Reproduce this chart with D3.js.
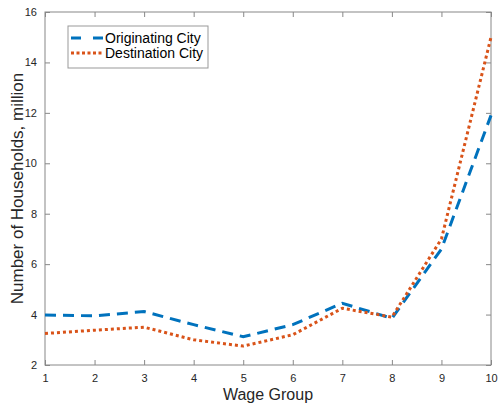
<!DOCTYPE html>
<html>
<head>
<meta charset="utf-8">
<script src="https://cdn.jsdelivr.net/npm/d3@7"></script>
<style>
  body { margin: 0; background: #fff; }
  text { font-family: "Liberation Sans", Arial, sans-serif; }
</style>
</head>
<body>
<div id="chart"></div>
<script>
// Data
var wageGroups = [1, 2, 3, 4, 5, 6, 7, 8, 9, 10];
var originating = [3.98, 3.95, 4.12, 3.6, 3.12, 3.6, 4.45, 3.85, 6.6, 11.9];
var destination = [3.25, 3.38, 3.5, 3.0, 2.75, 3.2, 4.25, 3.9, 7.0, 15.0];
var yTicks = [2, 4, 6, 8, 10, 12, 14, 16];

var series = [
    {name: "Originating City", values: originating, color: "#0072BD", dash: "11,7"},
    {name: "Destination City", values: destination, color: "#D95319", dash: "3,3"}
];

// Basic size information
var svgWidth = 498, svgHeight = 403;
var margin = {top: 12, right: 7, bottom: 38, left: 45};
var width = svgWidth - margin.left - margin.right;
var height = svgHeight - margin.top - margin.bottom;
var axisColor = "#888";

var svg = d3.select("#chart")
    .append("svg")
        .attr("width", svgWidth)
        .attr("height", svgHeight)
    .append("g")
        .attr("transform", "translate(" + margin.left + "," + margin.top + ")");

var x = d3.scaleLinear().domain([1, 10]).range([0, width]);
var y = d3.scaleLinear().domain([2, 16]).range([height, 0]);

// Axes (ticks point inward, like matlab)
svg.append("g")
    .attr("transform", "translate(0," + height + ")")
    .call(d3.axisBottom(x).tickValues(wageGroups).tickSize(-5).tickPadding(9).tickFormat(d3.format("d")))
    .call(g => g.select(".domain").remove());
svg.append("g")
    .call(d3.axisLeft(y).tickValues(yTicks).tickSize(-5).tickPadding(8))
    .call(g => g.select(".domain").remove());
svg.append("g")
    .call(d3.axisTop(x).tickValues(wageGroups).tickSize(-5).tickFormat(""))
    .call(g => g.select(".domain").remove());
svg.append("g")
    .attr("transform", "translate(" + width + ",0)")
    .call(d3.axisRight(y).tickValues(yTicks).tickSize(-5).tickFormat(""))
    .call(g => g.select(".domain").remove());

svg.selectAll(".tick line").attr("stroke", axisColor);
svg.selectAll(".tick text")
    .attr("fill", "#262626")
    .style("font-size", "11px")
    .style("font-family", "'Liberation Sans', Arial, sans-serif");

// Frame
svg.append("rect")
    .attr("width", width)
    .attr("height", height)
    .attr("fill", "none")
    .attr("stroke", axisColor)
    .attr("stroke-width", 1);

// Lines
var line = d3.line()
    .x((d, i) => x(wageGroups[i]))
    .y(d => y(d));

svg.selectAll(".series")
    .data(series)
    .join("path")
        .attr("class", "series")
        .attr("d", d => line(d.values))
        .attr("fill", "none")
        .attr("stroke", d => d.color)
        .attr("stroke-width", 3)
        .attr("stroke-dasharray", d => d.dash);

// Axis labels
svg.append("text")
    .attr("x", width / 2)
    .attr("y", height + 35)
    .attr("text-anchor", "middle")
    .attr("fill", "#262626")
    .style("font-size", "16px")
    .text("Wage Group");

svg.append("text")
    .attr("transform", "translate(" + (-22) + "," + (height / 2) + ") rotate(-90)")
    .attr("text-anchor", "middle")
    .attr("fill", "#262626")
    .style("font-size", "17px")
    .text("Number of Households, million");

// Legend
var legend = svg.append("g")
    .attr("transform", "translate(" + 23 + "," + 14 + ")");
legend.append("rect")
    .attr("width", 140)
    .attr("height", 42)
    .attr("fill", "#fff")
    .attr("stroke", "#999")
    .attr("stroke-width", 1);
var item = legend.selectAll(".item")
    .data(series)
    .join("g")
        .attr("class", "item")
        .attr("transform", (d, i) => "translate(0," + (12 + i * 15) + ")");
item.append("line")
    .attr("x1", 3)
    .attr("x2", 36)
    .attr("stroke", d => d.color)
    .attr("stroke-width", 3)
    .attr("stroke-dasharray", (d, i) => i === 0 ? "10,12" : "3,2.5");
item.append("text")
    .attr("x", 37)
    .attr("y", 5)
    .attr("fill", "#000")
    .style("font-size", "14px")
    .text(d => d.name);
</script>
</body>
</html>
